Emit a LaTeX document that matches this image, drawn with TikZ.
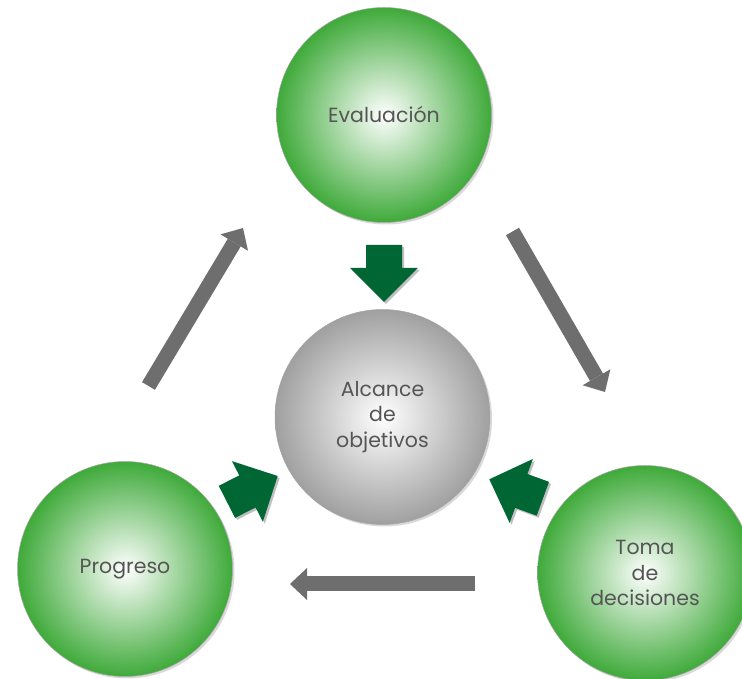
\documentclass[tikz,border=0pt]{standalone}
\usepackage{fontspec}
\setmainfont{Poppins}
\usetikzlibrary{arrows.meta, calc, shadows}
\definecolor{leafgreen}{HTML}{3FAA3A}
\definecolor{darkleaf}{HTML}{006633}
\definecolor{rimgray}{HTML}{A0A0A0}
\definecolor{flowgray}{HTML}{6E6E6E}
\definecolor{labelgray}{HTML}{555555}

\begin{document}
\begin{tikzpicture}[x=1pt, y=1pt,
  stage/.style={circle, draw=black!35, line width=0.5pt, inner color=white, outer color=#1, minimum size=215pt, align=center, text=labelgray, font=\fontsize{20.5}{25.5}\selectfont, drop shadow={shadow xshift=2pt, shadow yshift=-2pt, opacity=0.3}},
  stage/.default=leafgreen,
  flow/.style={draw=flowgray, line width=15pt, -{Triangle[length=17pt, width=32pt, line width=0pt]}},
  pics/push/.style={code={\fill[#1] (0,0) -- (-34,34) -- (-34,18) -- (-57,18) -- (-57,-18) -- (-34,-18) -- (-34,-34) -- cycle;}}]
  \useasboundingbox (0,0) rectangle (742,679);

  % the four stages
  \node[stage] (eval) at (384,564) {Evaluación};
  \node[stage=rimgray] (goal) at (382.5,262) {Alcance\\de\\objetivos};
  \node[stage] (prog) at (125,110) {Progreso};
  \node[stage] (toma) at (645,106) {Toma\\de\\decisiones};

  % cycle arrows
  \coordinate (p1) at (148.5,293); \coordinate (e1) at (243,451);
  \coordinate (e2) at (512.5,447.5); \coordinate (t2) at (605,287);
  \coordinate (t3) at (475,95); \coordinate (p3) at (290,95);
  \draw[flow] (p1) -- (e1);
  \draw[flow] (e2) -- (t2);
  \draw[flow] (t3) -- (p3);

  % arrows into the centre
  \coordinate (in1) at ($(goal)+(1.5,115)$);
  \coordinate (in2) at ($(goal)+(-104.8,-59)$);
  \coordinate (in3) at ($(goal)+(106.8,-62.3)$);
  \foreach \tip/\ang in {in1/-90, in2/27, in3/160} {
    \pic[rotate=\ang] at ($(\tip)+(2,-2)$) {push=black!25};
    \pic[rotate=\ang] at (\tip) {push=darkleaf};
  }
\end{tikzpicture}
\end{document}
